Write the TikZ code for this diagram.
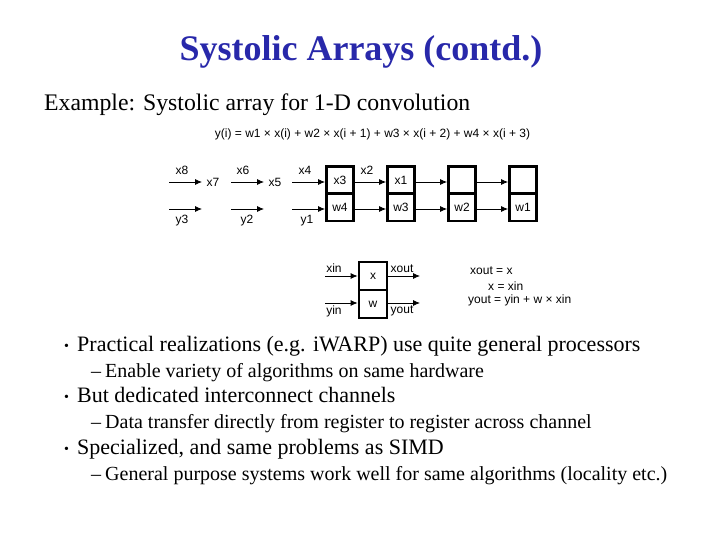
\documentclass[tikz,border=0pt]{standalone}
\usepackage{fontspec}
\setmainfont{Liberation Serif}
\setsansfont{Liberation Sans}
\usetikzlibrary{arrows.meta}

\begin{document}
\begin{tikzpicture}[
    x=1pt, y=-1pt,
    cell/.style={draw, line width=2.8pt, minimum width=27pt, minimum height=27pt, inner sep=0pt, font=\fontsize{12}{13}\sffamily},
    arrow/.style={-{Latex[length=7pt,width=6pt]}, line width=0.8pt},
    lbl/.style={inner sep=0pt, font=\fontsize{12}{13}\sffamily},
    head/.style={anchor=base west, inner sep=0pt, font=\fontsize{22}{24}\selectfont},
    sub/.style={anchor=base west, inner sep=0pt, font=\fontsize{20}{22}\selectfont},
]
\useasboundingbox (0,0) rectangle (720,540);

% Title and first lines
\node[inner sep=0pt, anchor=base, text={rgb,255:red,40;green,40;blue,170}, font=\fontsize{36}{40}\bfseries\selectfont] (title) at (361,61) {Systolic Arrays (contd.)};
\node[head, font=\fontsize{23.75}{28}\selectfont] (example) at (44,111) {Example: Systolic array for 1-D convolution};
\node[lbl, anchor=base] (formula) at (372.5,138) {y(i) = w1 × x(i) + w2 × x(i + 1) + w3 × x(i + 2) + w4 × x(i + 3)};

% Array cells
\foreach \i/\xpos/\top/\bot in {1/340/x3/w4, 2/401/x1/w3, 3/462/{}/w2, 4/523/{}/w1} {
    \node[cell] (xc_\i) at (\xpos,180) {\top};
    \node[cell] (wc_\i) at (\xpos,207.5) {\bot};
}
\coordinate (xrow) at (0,182);
\coordinate (wrow) at (0,209);

% Arrows between cells
\foreach \i/\j in {1/2, 2/3, 3/4} {
    \draw[arrow] (xc_\i.east |- xrow) -- (xc_\j.west |- xrow);
    \draw[arrow] (wc_\i.east |- wrow) -- (wc_\j.west |- wrow);
}

% Inputs on the left
\foreach \i/\xa/\xb in {1/169/202, 2/231/264, 3/292/325} {
    \coordinate (xs_\i) at (\xa,182);
    \coordinate (xe_\i) at (\xb,182);
    \coordinate (ys_\i) at (\xa,209);
    \coordinate (ye_\i) at (\xb,209);
    \draw[arrow] (xs_\i) -- (xe_\i);
    \draw[arrow] (ys_\i) -- (ye_\i);
}

% Labels on the input streams
\foreach \name/\txt/\xpos/\ypos in {a/x8/182/170, b/x7/213/182, c/x6/243/170, d/x5/275/182, e/x4/305/170, f/x2/367/170, g/y3/182/221, h/y2/247/221, i/y1/307/221} {
    \node[lbl] (lbl_\name) at (\xpos,\ypos) {\txt};
}

% Single cell
\node[cell, minimum width=28pt, minimum height=28pt] (xcell) at (373,276) {x};
\node[cell, minimum width=28pt, minimum height=28pt] (wcell) at (373,304) {w};
\coordinate (xin_s) at (325,276);
\coordinate (yin_s) at (325,303);
\coordinate (xout_e) at (420,276);
\coordinate (yout_e) at (420,303);
\draw[arrow] (xin_s) -- (xcell.west |- xin_s);
\draw[arrow] (yin_s) -- (wcell.west |- yin_s);
\draw[arrow] (xcell.east |- xout_e) -- (xout_e);
\draw[arrow] (wcell.east |- yout_e) -- (yout_e);
\node[lbl] (xin) at (334,268) {xin};
\node[lbl] (yin) at (334,311) {yin};
\node[lbl] (xout) at (402,269) {xout};
\node[lbl] (yout) at (402,311) {yout};

% Cell equations
\node[lbl, anchor=base west] (eq1) at (470,274) {xout = x};
\node[lbl, anchor=base west] (eq2) at (488,290) {x = xin};
\node[lbl, anchor=base west] (eq3) at (468,303) {yout = yin + w × xin};

% Bullets
\foreach \name/\ypos/\txt in {a/351/{Practical realizations (e.g. iWARP) use quite general processors}, b/402/{But dedicated interconnect channels}, c/454/{Specialized, and same problems as SIMD}} {
    \node[head] (item_\name) at (77,\ypos) {\txt};
    \node[head, font=\fontsize{14}{16}\selectfont] (dot_\name) at (64,\ypos-1) {•};
}
\foreach \name/\ypos/\txt in {a/377/{Enable variety of algorithms on same hardware}, b/428/{Data transfer directly from register to register across channel}, c/480/{General purpose systems work well for same algorithms (locality etc.)}} {
    \node[sub] (subitem_\name) at (105,\ypos) {\txt};
    \node[sub] (dash_\name) at (91,\ypos) {–};
}
\end{tikzpicture}
\end{document}
